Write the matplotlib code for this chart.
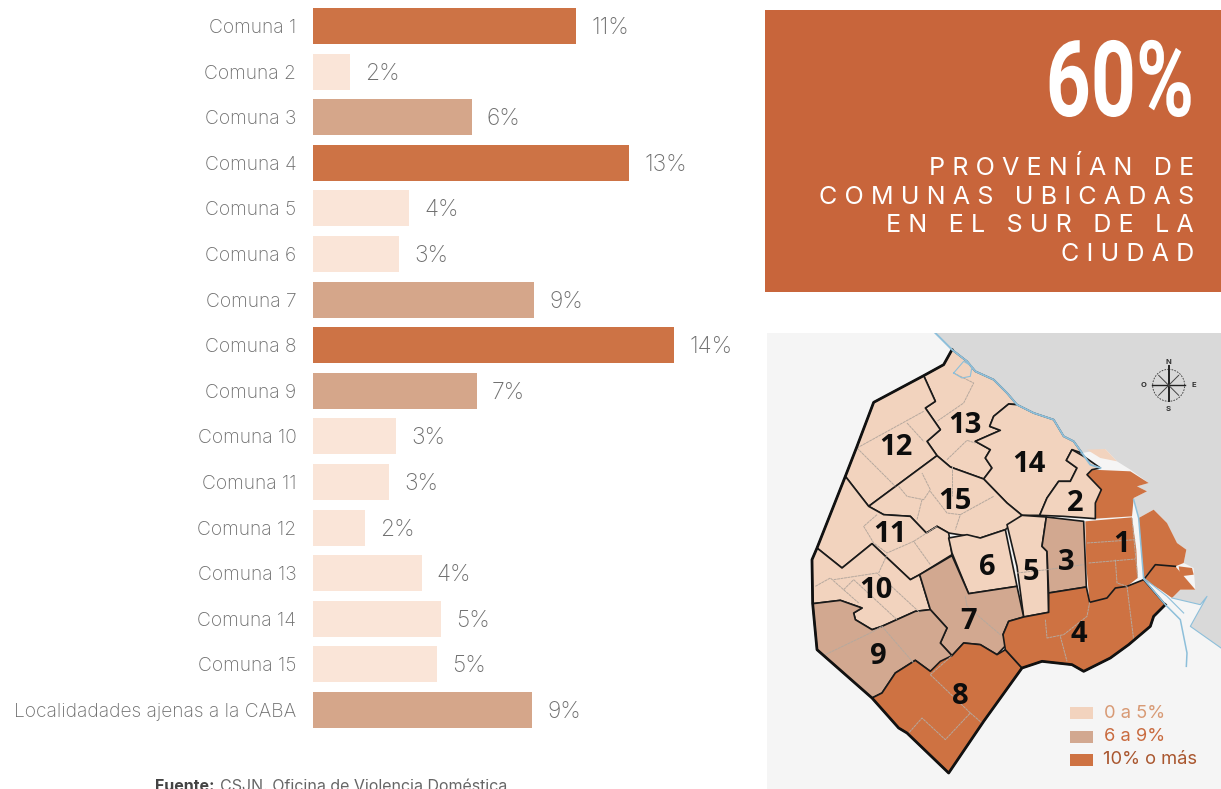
import matplotlib
matplotlib.use('Agg')
from matplotlib import pyplot as plt
from matplotlib.patches import Polygon, Rectangle, Circle
from matplotlib.transforms import Affine2D
import matplotlib.patheffects as pe

W, H = 1221, 789

categories = ['Comuna 1', 'Comuna 2', 'Comuna 3', 'Comuna 4', 'Comuna 5', 'Comuna 6', 'Comuna 7', 'Comuna 8',
              'Comuna 9', 'Comuna 10', 'Comuna 11', 'Comuna 12', 'Comuna 13', 'Comuna 14', 'Comuna 15',
              'Localidadades ajenas a la CABA']
# bar lengths, the printed labels are rounded
values = [10.2, 1.43, 6.16, 12.25, 3.72, 3.33, 8.57, 14.0, 6.36, 3.22, 2.95, 2.02, 4.22, 4.96, 4.81, 8.53]
value_labels = ['11%', '2%', '6%', '13%', '4%', '3%', '9%', '14%', '7%', '3%', '3%', '2%', '4%', '5%', '5%', '9%']
bar_groups = ['d', 'l', 'm', 'd', 'l', 'l', 'm', 'd', 'm', 'l', 'l', 'l', 'l', 'l', 'l', 'm']
bar_colors = {'l': '#FAE5D8', 'm': '#D5A68A', 'd': '#CD7345'}

panel_lines = ['P R O V E N Í A N   D E', 'C O M U N A S   U B I C A D A S', 'E N   E L   S U R   D E   L A', 'C I U D A D']

map_colors = {'l': '#F2D3BE', 'm': '#D2A890', 'd': '#CE7242'}

# map outlines, in the map's own units
river = [(505, 0), (540, 35), (600, 85), (625, 115), (680, 140), (720, 180), (750, 215), (800, 240), (860, 260),
         (890, 310), (920, 325), (945, 360), (1015, 348), (1050, 385), (1090, 410), (1145, 450), (1110, 460),
         (1140, 475), (1100, 495), (1115, 555), (1160, 530), (1200, 570), (1230, 630), (1258, 650), (1250, 690),
         (1280, 705), (1285, 770), (1240, 770), (1215, 795), (1300, 815), (1320, 790), (1270, 880), (1362, 945),
         (1362, 0)]
coast = [(505, 0), (540, 35), (555, 50), (600, 85), (625, 115), (680, 140), (720, 180), (750, 215), (800, 240),
         (860, 260), (890, 310), (920, 325), (945, 360), (970, 395), (1000, 405)]
lagoon = [(560, 120), (590, 85), (615, 100), (610, 130), (585, 135), (560, 120)]
canal = [(1100, 500), (1115, 555), (1130, 738), (1195, 815), (1240, 860), (1260, 960), (1258, 1000)]
canal2 = [(1215, 795), (1300, 815), (1320, 790), (1270, 880), (1362, 945)]
canal3 = [(1130, 735), (1200, 790), (1250, 840)]

comunas = {
    '13': ('l', [(555, 50), (530, 95), (470, 128), (505, 205), (475, 225), (520, 290), (480, 325), (510, 368),
                 (550, 402), (650, 438), (675, 405), (655, 375), (670, 350), (625, 325), (700, 292), (668, 280),
                 (680, 250), (725, 213), (750, 215), (720, 180), (680, 140), (625, 115), (600, 85)]),
    '14': ('l', [(725, 213), (750, 215), (800, 240), (860, 260), (890, 310), (920, 325), (945, 360), (915, 350),
                 (898, 382), (930, 405), (910, 445), (875, 445), (840, 495), (818, 547), (765, 547), (720, 510),
                 (650, 438), (675, 405), (655, 375), (670, 350), (625, 325), (700, 292), (668, 280), (680, 250)]),
    '2': ('l', [(915, 350), (898, 382), (930, 405), (910, 445), (875, 445), (840, 495), (818, 547), (890, 550),
                (985, 557), (985, 510), (1003, 470), (960, 425), (975, 410), (1000, 405), (950, 370)]),
    '12': ('l', [(470, 128), (505, 205), (475, 225), (520, 290), (480, 325), (510, 368), (305, 520), (235, 430),
                 (270, 340), (320, 208)]),
    '15': ('l', [(510, 368), (550, 402), (650, 438), (720, 510), (765, 547), (715, 590), (640, 615), (545, 600),
                 (510, 580), (478, 600), (430, 550), (350, 545), (305, 520)]),
    '11': ('l', [(235, 430), (305, 520), (350, 545), (430, 550), (478, 600), (510, 580), (545, 600), (555, 665),
                 (458, 725), (430, 740), (315, 632), (225, 705), (150, 645)]),
    '10': ('l', [(150, 645), (225, 705), (315, 632), (430, 740), (458, 725), (490, 830), (445, 835), (345, 880),
                 (315, 890), (265, 860), (260, 840), (285, 825), (220, 802), (137, 812), (135, 680)]),
    '6': ('l', [(545, 615), (600, 605), (640, 615), (715, 590), (750, 760), (605, 782), (555, 660)]),
    '5': ('l', [(720, 575), (765, 547), (838, 552), (825, 640), (840, 655), (845, 838), (770, 852), (750, 700)]),
    '3': ('m', [(838, 552), (950, 565), (958, 762), (845, 780), (840, 655), (825, 640)]),
    '7': ('m', [(458, 725), (555, 668), (605, 782), (750, 760), (770, 852), (725, 865), (708, 905), (728, 925),
                (690, 965), (640, 935), (590, 930), (555, 968), (520, 930), (540, 885), (490, 830)]),
    '9': ('m', [(137, 812), (220, 802), (285, 825), (260, 840), (265, 860), (315, 890), (345, 880), (445, 835),
                (490, 830), (540, 885), (520, 930), (555, 968), (490, 1015), (445, 982), (385, 1020), (345, 1080),
                (315, 1095), (150, 950)]),
    '8': ('d', [(315, 1095), (345, 1080), (385, 1020), (445, 982), (490, 1015), (520, 985), (555, 968), (590, 930),
                (640, 935), (690, 965), (715, 950), (765, 1005), (650, 1165), (545, 1320), (420, 1200), (395, 1185)]),
    '4': ('d', [(845, 780), (958, 762), (968, 808), (1020, 795), (1045, 765), (1080, 760), (1130, 740), (1195, 815),
                (1160, 850), (1150, 880), (1085, 935), (1030, 975), (950, 1015), (915, 995), (825, 985), (765, 1005),
                (715, 950), (708, 905), (725, 865), (770, 852), (845, 838)]),
}
comuna1_parts = [
    [(960, 425), (975, 410), (1090, 415), (1145, 450), (1110, 460), (1140, 475), (1100, 495), (1095, 550), (985, 557),
     (985, 510), (1003, 470)],
    [(955, 565), (1095, 553), (1108, 650), (1112, 735), (1080, 760), (1045, 765), (1020, 795), (968, 808), (958, 700)],
    [(1115, 555), (1160, 530), (1200, 570), (1230, 630), (1258, 650), (1250, 690), (1225, 700), (1165, 695),
     (1130, 735)],
    [(1130, 740), (1165, 695), (1225, 700), (1285, 770), (1240, 770), (1215, 795), (1180, 770)],
    [(1235, 700), (1275, 705), (1280, 725), (1240, 730)],
]
island = [(960, 350), (1015, 348), (1050, 385), (1000, 375)]

barrio_lines = [
    [(560, 120), (620, 150), (590, 210), (510, 265)], [(540, 380), (600, 322), (625, 330)],
    [(270, 345), (470, 235)], [(420, 270), (470, 325)], [(270, 345), (385, 460)],
    [(395, 460), (420, 490), (470, 500), (490, 470), (465, 420)], [(465, 500), (450, 560)],
    [(490, 475), (540, 540), (580, 545), (565, 590)], [(555, 400), (555, 490)], [(580, 545), (680, 490)],
    [(330, 545), (290, 580), (320, 630), (360, 660), (440, 625), (490, 695)], [(360, 665), (335, 720)],
    [(440, 625), (510, 580)], [(145, 760), (190, 735), (275, 810)], [(200, 740), (330, 720), (460, 840)],
    [(230, 770), (260, 740), (390, 860)], [(175, 965), (320, 895), (345, 880), (440, 990)],
    [(595, 790), (600, 820), (700, 905)], [(490, 1025), (610, 1140), (535, 1220), (465, 1155), (425, 1200)],
    [(610, 1140), (645, 1170)], [(490, 1025), (555, 968)], [(750, 720), (840, 710), (950, 695)],
    [(960, 630), (1105, 620)], [(965, 690), (1105, 678)], [(1045, 680), (1050, 750), (1080, 760)],
    [(1095, 555), (1112, 735)], [(835, 860), (840, 915), (890, 905), (960, 850), (968, 808)],
    [(880, 910), (900, 985)], [(1080, 760), (1100, 920)],
]

number_names = ['12', '13', '14', '15', '2', '1', '11', '10', '6', '5', '3', '7', '4', '9', '8']
number_x = [388, 595, 787, 565, 925, 1065, 368, 328, 660, 792, 897, 605, 935, 333, 580]
number_y = [343, 278, 396, 505, 511, 633, 605, 771, 703, 720, 688, 865, 905, 970, 1091]

legend_labels = ['0 a 5%', '6 a 9%', '10% o más']
legend_text_colors = ['#D89A75', '#C96B3F', '#A9562E']
legend_keys = ['l', 'm', 'd']


class SqueezeX(pe.AbstractPathEffect):
    # no condensed bold font here, so squeeze the glyphs around an x in pixels
    def __init__(self, x0, xscale):
        self.x0 = x0
        self.xscale = xscale

    def draw_path(self, renderer, gc, tpath, affine, rgbFace=None):
        squeeze = Affine2D().translate(-self.x0, 0).scale(self.xscale, 1).translate(self.x0, 0)
        renderer.draw_path(gc, tpath, affine + squeeze, rgbFace)


plt.rcParams['font.family'] = ['Inter', 'DejaVu Sans']
fig = plt.figure(figsize=(W / 100, H / 100), dpi=100, facecolor='white')

# page layer in pixels: panel and source line
page = fig.add_axes([0, 0, 1, 1])
page.set_xlim(0, W)
page.set_ylim(H, 0)
page.axis('off')
page.add_patch(Rectangle((765, 10), 456, 282, color='#C8653B', lw=0))
page.text(1194, 116, '60%', color='white', fontsize=76, fontweight='bold', family='Roboto', ha='right',
          va='baseline', path_effects=[SqueezeX(1194, 0.745)])
for i, line in enumerate(panel_lines):
    page.text(1194, 175 + 28.7 * i, line, color='white', fontsize=18.1, ha='right', va='baseline')
page.text(155, 791, 'Fuente:', color='#444444', fontsize=11.5, fontweight='bold', va='baseline')
page.text(220, 791, 'CSJN. Oficina de Violencia Doméstica', color='#666666', fontsize=11.5, va='baseline')

# bars
px_per_unit = 25.8
row_px = 45.6
ax = fig.add_axes([313 / W, (H - 733) / H, 447 / W, 730 / H])
ax.patch.set_alpha(0)
ax.set_xlim(0, 447 / px_per_unit)
ax.set_ylim((733 - 26) / row_px, (3 - 26) / row_px)
rows = list(range(len(categories)))
lefts = [0] * 15 + [-1 / px_per_unit]
bars = ax.barh(rows, values, left=lefts, height=36 / row_px, color=[bar_colors[g] for g in bar_groups])
labels = ax.bar_label(bars, labels=value_labels, padding=10.8, color='#6E6E6E', fontsize=16.5, fontweight='light')
for t in labels:
    t.xyann = (t.xyann[0], -1.5)
ax.set_yticks(rows, categories, color='#6E6E6E', fontsize=13.85, fontweight='light')
ax.tick_params(axis='y', length=0, pad=12)
ax.xaxis.set_visible(False)
for s in ax.spines.values():
    s.set_visible(False)

# map
mp = fig.add_axes([767 / W, 0, 454 / W, (H - 333) / H])
mp.set_xlim(0, 1362)
mp.set_ylim(1368, 0)
mp.set_facecolor('#F5F5F5')
mp.set_xticks([])
mp.set_yticks([])
for s in mp.spines.values():
    s.set_visible(False)

mp.add_patch(Polygon(river, closed=True, color='#D9D9D9', lw=0))

mp.add_patch(Polygon(island, closed=True, fc=map_colors['l'], ec='none'))
for part in comuna1_parts:
    mp.add_patch(Polygon(part, closed=True, fc=map_colors['d'], ec='none'))
for key, (group, outline) in comunas.items():
    mp.add_patch(Polygon(outline, closed=True, fc=map_colors[group], ec='#1A1A1A', lw=1.2, joinstyle='round'))

for l in barrio_lines:
    mp.plot([p[0] for p in l], [p[1] for p in l], color='#B5A89E', lw=0.7, ls=(0, (3, 0.6)))

city_edge = [(555, 50), (530, 95), (470, 128), (320, 208), (270, 340), (235, 430), (150, 645), (135, 680), (137, 812),
             (150, 950), (315, 1095), (395, 1185), (420, 1200), (545, 1320), (650, 1165), (765, 1005), (825, 985),
             (915, 995), (950, 1015), (1030, 975), (1085, 935), (1150, 880), (1160, 850), (1195, 815)]
mp.plot([p[0] for p in city_edge], [p[1] for p in city_edge], color='#111111', lw=2.0, solid_joinstyle='round')
port_edge = [(1130, 740), (1165, 695), (1225, 700)]
mp.plot([p[0] for p in port_edge], [p[1] for p in port_edge], color='#1A1A1A', lw=1.2)

# the river side has no black edge, the blue line goes over it
for c, w in [(coast, 1.4), (lagoon, 0.8), (canal, 1.1), (canal2, 0.8), (canal3, 0.8)]:
    mp.plot([p[0] for p in c], [p[1] for p in c], color='#8DBFDA', lw=w)

for name, x, y in zip(number_names, number_x, number_y):
    mp.text(x, y, name, color='#0D0D0D', fontsize=21, fontweight='bold', family='Open Sans', ha='center',
            va='center')

# compass
mp.add_patch(Circle((1205, 157), 48, fill=False, ec='#333333', lw=0.6, ls=(0, (2, 1.5))))
mp.plot([1205, 1205], [100, 205], color='#222222', lw=1.4)
mp.plot([1155, 1255], [157, 157], color='#222222', lw=1.0)
mp.plot([1175, 1235], [127, 187], color='#444444', lw=0.7)
mp.plot([1175, 1235], [187, 127], color='#444444', lw=0.7)
for t, x, y in zip(['N', 'S', 'O', 'E'], [1205, 1205, 1130, 1280], [87, 228, 157, 157]):
    mp.text(x, y, t, color='#333333', fontsize=5.5, fontweight='bold', ha='center', va='center')

# legend
for i, (lab, col, key) in enumerate(zip(legend_labels, legend_text_colors, legend_keys)):
    y = 1122 + 70.5 * i
    mp.add_patch(Rectangle((909, y), 69, 36, color=map_colors[key], lw=0))
    mp.text(1290 if i == 2 else 1193, y + 18, lab, color=col, fontsize=13.2, ha='right', va='center')

plt.savefig('out.png', dpi=100)
